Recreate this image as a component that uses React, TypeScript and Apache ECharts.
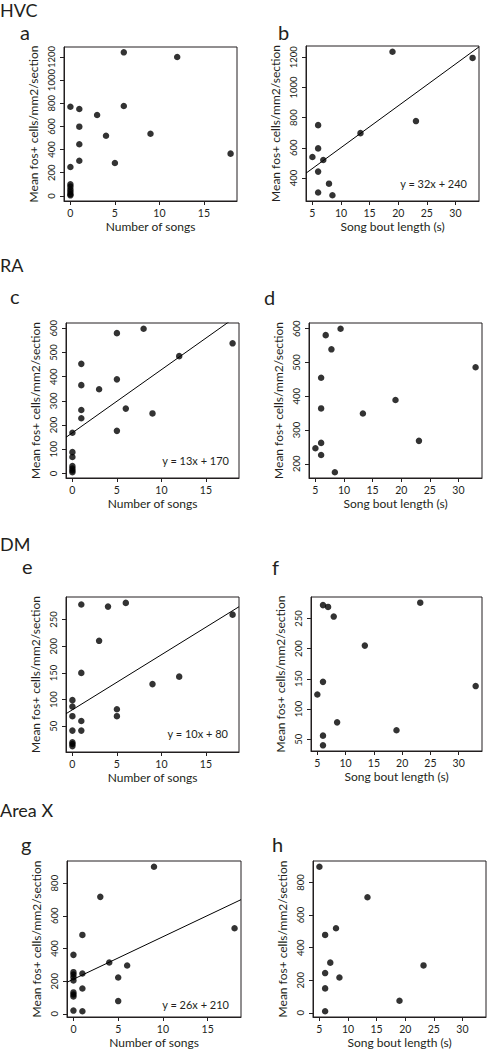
import React, { useEffect, useRef } from "react";
import * as echarts from "echarts";

// ---------- data ----------
const songTicks = [0, 5, 10, 15];
const boutTicks = [5, 10, 15, 20, 25, 30];

const hvcSongsX = [0, 0, 0, 0, 0, 0, 0, 0, 1, 1, 1, 1, 3, 4, 5, 6, 6, 9, 12, 18];
const hvcSongsY = [770, 250, 100, 80, 55, 35, 15, 5, 751, 598, 446, 304, 699, 520, 284, 776, 1240, 537, 1200, 365];
const hvcBoutX = [5, 6, 6, 6.9, 6, 6, 7.9, 8.5, 13.4, 19, 23.1, 33];
const hvcBoutY = [539, 750, 596, 519, 442, 303, 362, 285, 697, 1237, 777, 1196];
const hvcTicksA = [0, 200, 400, 600, 800, 1000, 1200];
const hvcTicksB = [400, 600, 800, 1000, 1200];

const raSongsX = [0, 0, 0, 0, 0, 0, 0, 1, 1, 1, 1, 3, 5, 5, 5, 6, 8, 9, 12, 18];
const raSongsY = [168, 88, 68, 30, 20, 12, 5, 453, 365, 262, 228, 348, 580, 389, 176, 268, 598, 248, 485, 538];
const raBoutX = [5, 6, 6, 6, 6, 6.8, 7.8, 8.4, 9.4, 13.3, 19, 23.1, 33];
const raBoutY = [246, 262, 226, 364, 455, 581, 539, 175, 600, 349, 389, 268, 486];
const raTicksC = [0, 100, 200, 300, 400, 500, 600];
const raTicksD = [200, 300, 400, 500, 600];

const dmSongsX = [0, 0, 0, 0, 0, 0, 0, 1, 1, 1, 1, 3, 4, 5, 5, 6, 9, 12, 18];
const dmSongsY = [99, 87, 69, 42, 20, 17, 13, 278, 150, 60, 42, 210, 274, 82, 69, 281, 129, 143, 259];
const dmBoutX = [6, 6.9, 7.9, 13.4, 23.2, 33, 6, 5, 8.5, 19, 6, 6];
const dmBoutY = [272, 269, 253, 205, 276, 138, 145, 124, 78, 65, 56, 40];
const dmTicks = [50, 100, 150, 200, 250];

const axSongsX = [0, 0, 0, 0, 0, 0, 0, 0, 0, 1, 1, 1, 1, 3, 4, 5, 5, 6, 9, 18];
const axSongsY = [361, 255, 241, 224, 204, 131, 118, 106, 20, 483, 247, 155, 16, 716, 314, 222, 78, 296, 900, 524];
const axBoutX = [5, 13.4, 7.9, 6, 6.9, 6, 8.5, 6, 6, 19, 23.2];
const axBoutY = [896, 709, 519, 478, 308, 244, 217, 150, 10, 74, 291];
const axTicks = [0, 200, 400, 600, 800];

// regression lines as drawn: [slope, intercept]
const fitHvcBout = [27.7, 324];
const fitRaSongs = [26.1, 168];
const fitDmSongs = [10.3, 81];
const fitAxSongs = [26, 212];

const eqHvcBout = "y = 32x + 240";
const eqRaSongs = "y = 13x + 170";
const eqDmSongs = "y = 10x + 80";
const eqAxSongs = "y = 26x + 210";

const yTitle = "Mean fos+ cells/mm2/section";
const xTitleSongs = "Number of songs";
const xTitleBout = "Song bout length (s)";

// ---------- style ----------
const FONT = "Lato, 'Noto Sans', sans-serif";
const INK = "#231f20";

type Panel = {
  rect: { left: number; top: number; width: number; height: number };
  xr: [number, number];
  yr: [number, number];
  xs: number[];
  ys: number[];
  xt: number[];
  yt: number[];
  xName: string;
  fit?: number[];
};

const SONG_R: [number, number] = [-0.72, 18.72];
const BOUT_R: [number, number] = [3.88, 34.12];

const panels: Panel[] = [
  { rect: { left: 64, top: 47, width: 173, height: 154 }, xr: SONG_R, yr: [-44, 1286], xs: hvcSongsX, ys: hvcSongsY, xt: songTicks, yt: hvcTicksA, xName: xTitleSongs },
  { rect: { left: 306, top: 46, width: 173, height: 155 }, xr: BOUT_R, yr: [247, 1275], xs: hvcBoutX, ys: hvcBoutY, xt: boutTicks, yt: hvcTicksB, xName: xTitleBout, fit: fitHvcBout },
  { rect: { left: 66, top: 323, width: 173, height: 155 }, xr: SONG_R, yr: [-19, 622], xs: raSongsX, ys: raSongsY, xt: songTicks, yt: raTicksC, xName: xTitleSongs, fit: fitRaSongs },
  { rect: { left: 309, top: 323, width: 173, height: 155 }, xr: BOUT_R, yr: [158, 617], xs: raBoutX, ys: raBoutY, xt: boutTicks, yt: raTicksD, xName: xTitleBout },
  { rect: { left: 66, top: 597, width: 173, height: 155 }, xr: SONG_R, yr: [2, 292], xs: dmSongsX, ys: dmSongsY, xt: songTicks, yt: dmTicks, xName: xTitleSongs, fit: fitDmSongs },
  { rect: { left: 311, top: 597, width: 171, height: 154 }, xr: BOUT_R, yr: [30.6, 285.4], xs: dmBoutX, ys: dmBoutY, xt: boutTicks, yt: dmTicks, xName: xTitleBout },
  { rect: { left: 67, top: 861, width: 174, height: 156 }, xr: SONG_R, yr: [-19.4, 935.4], xs: axSongsX, ys: axSongsY, xt: songTicks, yt: axTicks, xName: xTitleSongs, fit: fitAxSongs },
  { rect: { left: 313, top: 861, width: 173, height: 156 }, xr: BOUT_R, yr: [-25.4, 931.4], xs: axBoutX, ys: axBoutY, xt: boutTicks, yt: axTicks, xName: xTitleBout },
];

const txt = (text: string, x: number, y: number, size: number, align = "left") => ({
  type: "text",
  x,
  y,
  silent: true,
  style: { text, fontSize: size, fontFamily: FONT, fill: INK, align, verticalAlign: "middle" },
});

const plain = (v: number) => String(v);

function buildOption() {
  const grid: any[] = [];
  const xAxis: any[] = [];
  const yAxis: any[] = [];
  const series: any[] = [];
  panels.forEach((p, i) => {
    grid.push({ ...p.rect, show: true, borderColor: INK, borderWidth: 1, backgroundColor: "transparent" });
    xAxis.push({
      gridIndex: i,
      type: "value",
      min: p.xr[0],
      max: p.xr[1],
      axisLine: { show: true, onZero: false, lineStyle: { color: INK, width: 1 } },
      axisTick: { show: true, inside: false, length: 4, customValues: p.xt, lineStyle: { color: INK } },
      axisLabel: {
        customValues: p.xt, formatter: plain, hideOverlap: false, showMinLabel: true, showMaxLabel: true,
        margin: 6, fontSize: 10.5, fontFamily: FONT, color: INK,
      },
      splitLine: { show: false },
      name: p.xName,
      nameLocation: "middle",
      nameGap: 19,
      nameTextStyle: { fontSize: 12, fontFamily: FONT, color: INK },
    });
    yAxis.push({
      gridIndex: i,
      type: "value",
      min: p.yr[0],
      max: p.yr[1],
      axisLine: { show: true, onZero: false, lineStyle: { color: INK, width: 1 } },
      axisTick: { show: true, inside: false, length: 4, customValues: p.yt, lineStyle: { color: INK } },
      axisLabel: {
        customValues: p.yt, formatter: plain, hideOverlap: false, showMinLabel: true, showMaxLabel: true,
        margin: 8, rotate: 90, fontSize: 9.5, fontFamily: FONT, color: INK,
      },
      splitLine: { show: false },
      name: yTitle,
      nameLocation: "middle",
      nameGap: 25,
      nameTextStyle: { fontSize: 12, fontFamily: FONT, color: INK },
    });
    series.push({
      type: "scatter",
      xAxisIndex: i,
      yAxisIndex: i,
      symbol: "circle",
      symbolSize: 6.5,
      itemStyle: { color: "#000" },
      data: p.xs.map((x, k) => [x, p.ys[k]]),
    });
    if (p.fit) {
      const [m, c] = p.fit;
      series.push({
        type: "line",
        xAxisIndex: i,
        yAxisIndex: i,
        symbol: "none",
        clip: true,
        lineStyle: { color: "#000", width: 1 },
        data: [p.xr[0], p.xr[1]].map((x) => [x, m * x + c]),
      });
    }
  });

  const graphic = [
    txt("HVC", 0, 10, 18),
    txt("a", 20, 31.5, 20),
    txt("b", 278, 31.5, 20),
    txt("RA", 0, 265, 18),
    txt("c", 10, 295.5, 20),
    txt("d", 264, 297, 20),
    txt("DM", 0, 543.5, 18),
    txt("e", 22, 566, 20),
    txt("f", 272, 567, 20),
    txt("Area X", 0, 809.5, 18),
    txt("g", 21, 844, 20),
    txt("h", 272, 844, 20),
    txt(eqHvcBout, 467, 183, 11, "right"),
    txt(eqRaSongs, 229, 460, 11, "right"),
    txt(eqDmSongs, 228, 733, 11, "right"),
    txt(eqAxSongs, 229, 1004, 11, "right"),
  ];

  return {
    animation: false,
    backgroundColor: "#ffffff",
    grid,
    xAxis,
    yAxis,
    series,
    graphic,
  };
}

export default function App() {
  const ref = useRef<HTMLDivElement>(null);
  useEffect(() => {
    document.body.style.margin = "0";
    if (!ref.current) return;
    const chart = echarts.init(ref.current, undefined, { renderer: "svg" });
    chart.setOption(buildOption() as any);
    return () => chart.dispose();
  }, []);
  return <div ref={ref} style={{ width: 487, height: 1050 }} />;
}
